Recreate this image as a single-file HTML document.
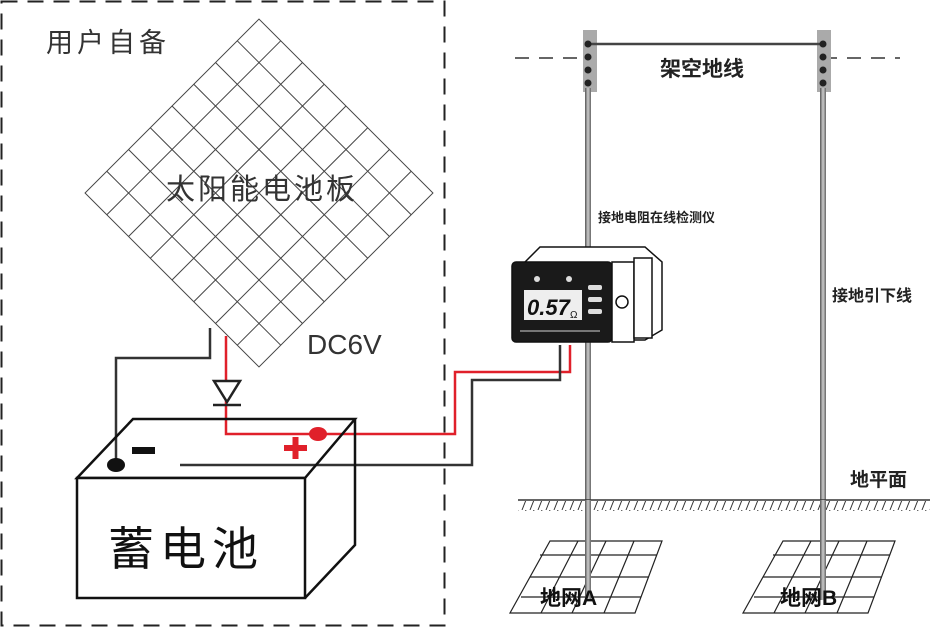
<!DOCTYPE html>
<html><head><meta charset="utf-8"><style>
body{margin:0;background:#fff}
svg{display:block}
.t{font-family:"Liberation Sans","Noto Sans CJK SC",sans-serif}
</style></head><body>
<svg width="936" height="627" viewBox="0 0 936 627" xmlns="http://www.w3.org/2000/svg">
<defs>
<linearGradient id="pole" x1="0" x2="1"><stop offset="0" stop-color="#555"/><stop offset="0.5" stop-color="#ccc"/><stop offset="1" stop-color="#666"/></linearGradient>
<pattern id="hatch" width="8" height="10" patternUnits="userSpaceOnUse"><line x1="2" y1="10" x2="6" y2="0" stroke="#333" stroke-width="1"/></pattern>
</defs>
<rect x="1.5" y="1.5" width="443" height="624" fill="none" stroke="#222" stroke-width="2" stroke-dasharray="16,10"/>
<text class="t" x="46" y="52" font-size="27" letter-spacing="4" fill="#333">用户自备</text>
<g transform="rotate(45 259 193)" stroke="#444" stroke-width="1" fill="none">
<rect x="136" y="70" width="246" height="246" fill="#fff"/>
<g id="gl">
<line x1="166.75" y1="70" x2="166.75" y2="316"/><line x1="197.5" y1="70" x2="197.5" y2="316"/><line x1="228.25" y1="70" x2="228.25" y2="316"/><line x1="259" y1="70" x2="259" y2="316"/><line x1="289.75" y1="70" x2="289.75" y2="316"/><line x1="320.5" y1="70" x2="320.5" y2="316"/><line x1="351.25" y1="70" x2="351.25" y2="316"/>
</g>
<use href="#gl" transform="rotate(90 259 193)"/>
</g>
<text class="t" x="166" y="199" font-size="29" letter-spacing="3" fill="#333">太阳能电池板</text>
<text class="t" x="307" y="354" font-size="28" fill="#333">DC6V</text>
<polyline points="116,465 116,358 210,358 210,328" fill="none" stroke="#333" stroke-width="2.5"/>
<polyline points="226,336 226,434 455,434 455,372 570,372 570,345" fill="none" stroke="#e0202a" stroke-width="2.5"/>
<polygon points="214,381 240,381 227,402" fill="#fff" stroke="#222" stroke-width="2.5"/>
<line x1="213" y1="405" x2="241" y2="405" stroke="#222" stroke-width="2.5"/>
<polyline points="180,465 472,465 472,380 560,380 560,345" fill="none" stroke="#333" stroke-width="2.5"/>
<polygon points="133,419 355,419 305,478 77,478" fill="none" stroke="#111" stroke-width="2.5"/>
<rect x="77" y="478" width="228" height="120" fill="#fff" stroke="#111" stroke-width="2.5"/>
<polyline points="305,598 355,545 355,419" fill="none" stroke="#111" stroke-width="2.5"/>
<ellipse cx="116" cy="465" rx="9" ry="7" fill="#111"/>
<rect x="132" y="447" width="23" height="7" fill="#111"/>
<ellipse cx="318" cy="434" rx="9" ry="7" fill="#e0202a"/>
<rect x="284" y="445" width="23" height="6" fill="#e0202a"/><rect x="292.5" y="437" width="6" height="22" fill="#e0202a"/>
<text class="t" x="108" y="565" font-size="46" fill="#111" letter-spacing="6">蓄电池</text>
<line x1="515" y1="58" x2="588" y2="58" stroke="#666" stroke-width="2" stroke-dasharray="14,10"/>
<line x1="823" y1="58" x2="900" y2="58" stroke="#666" stroke-width="2" stroke-dasharray="14,10"/>
<rect x="583" y="30" width="14" height="62" fill="#aaa"/>
<rect x="817" y="30" width="14" height="62" fill="#aaa"/>
<line x1="588" y1="44" x2="824" y2="44" stroke="#444" stroke-width="2.5"/>
<rect x="585" y="88" width="6" height="512" fill="url(#pole)"/>
<rect x="820" y="88" width="6" height="512" fill="url(#pole)"/>
<g fill="#222"><circle cx="588" cy="44" r="3.5"/><circle cx="588" cy="57" r="3.5"/><circle cx="588" cy="70" r="3.5"/><circle cx="588" cy="83" r="3.5"/>
<circle cx="823" cy="44" r="3.5"/><circle cx="823" cy="57" r="3.5"/><circle cx="823" cy="70" r="3.5"/><circle cx="823" cy="83" r="3.5"/></g>
<text class="t" x="660" y="76" font-size="21" font-weight="bold" fill="#222">架空地线</text>
<text class="t" x="598" y="222" font-size="13" font-weight="bold" fill="#222">接地电阻在线检测仪</text>
<text class="t" x="832" y="301" font-size="16" font-weight="bold" fill="#222">接地引下线</text>
<text class="t" x="850" y="486" font-size="19" font-weight="bold" fill="#222">地平面</text>
<g stroke="#111" stroke-width="1.5">
<path d="M525,262 L540,247 L645,247 L662,262 L662,330 L645,340 L525,340 Z" fill="#fff"/>
<rect x="512" y="262" width="100" height="80" rx="4" fill="#1a1a1a"/>
<rect x="612" y="262" width="22" height="80" fill="#fff"/>
<rect x="634" y="258" width="18" height="80" fill="#fff"/>
<circle cx="622" cy="302" r="6" fill="#fff"/>
</g>
<rect x="524" y="290" width="58" height="30" fill="#eee"/>
<text class="t" x="527" y="315" font-size="22" font-style="italic" font-weight="bold" fill="#111">0.57</text>
<text class="t" x="570" y="318" font-size="10" fill="#111">Ω</text>
<circle cx="537" cy="279" r="3" fill="#ddd"/><circle cx="569" cy="279" r="3" fill="#ddd"/>
<g fill="#ddd"><rect x="588" y="285" width="14" height="5" rx="2"/><rect x="588" y="297" width="14" height="5" rx="2"/><rect x="588" y="309" width="14" height="5" rx="2"/></g>
<rect x="520" y="330" width="80" height="2" fill="#777"/>
<line x1="518" y1="500" x2="930" y2="500" stroke="#333" stroke-width="1.5"/>
<rect x="518" y="501" width="412" height="10" fill="url(#hatch)"/>
<g id="gA" stroke="#222" stroke-width="1.2" fill="none">
<polygon points="550,541 662,541 635,613 510,613"/>
<line x1="540" y1="555" x2="657" y2="555"/><line x1="530" y1="577" x2="649" y2="577"/><line x1="521" y1="597" x2="641" y2="597"/>
<line x1="578" y1="541" x2="541" y2="613"/><line x1="606" y1="541" x2="572" y2="613"/><line x1="634" y1="541" x2="604" y2="613"/>
</g>
<use href="#gA" transform="translate(233 0)"/>
<rect x="585" y="500" width="6" height="100" fill="url(#pole)"/>
<rect x="820" y="500" width="6" height="100" fill="url(#pole)"/>
<text class="t" x="540" y="605" font-size="21" font-weight="bold" fill="#111">地网A</text>
<text class="t" x="780" y="605" font-size="21" font-weight="bold" fill="#111">地网B</text>
</svg>
</body></html>
